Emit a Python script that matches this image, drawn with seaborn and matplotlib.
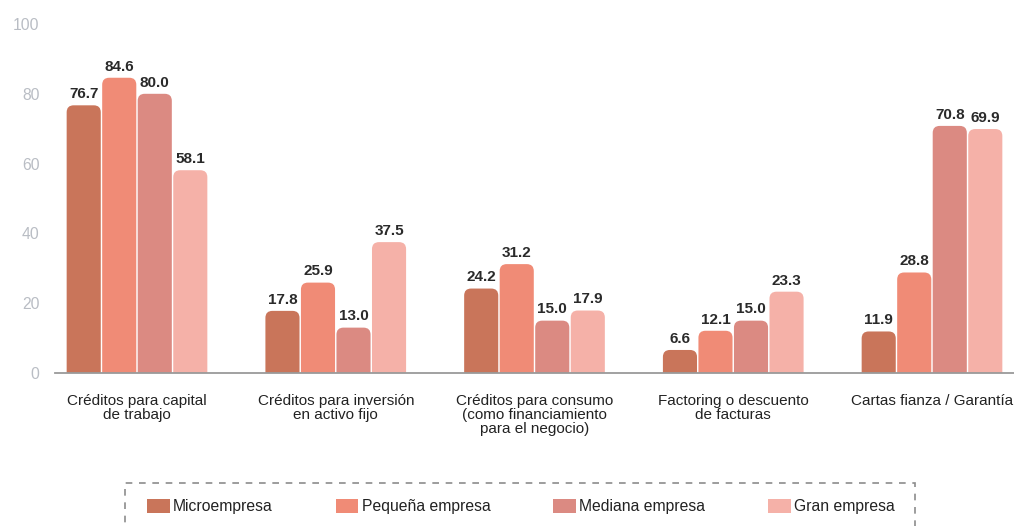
import numpy as np
import pandas as pd
import matplotlib
matplotlib.use("Agg")
import matplotlib.pyplot as plt
from matplotlib.path import Path
from matplotlib.patches import PathPatch, Patch, Rectangle
import seaborn as sns

# ---- data -------------------------------------------------------------
categories = [
    "Créditos para capital\nde trabajo",
    "Créditos para inversión\nen activo fijo",
    "Créditos para consumo\n(como financiamiento\npara el negocio)",
    "Factoring o descuento\nde facturas",
    "Cartas fianza / Garantía",
]
sizes = ["Microempresa", "Pequeña empresa", "Mediana empresa", "Gran empresa"]
micro = [76.7, 17.8, 24.2, 6.6, 11.9]
pequena = [84.6, 25.9, 31.2, 12.1, 28.8]
mediana = [80.0, 13.0, 15.0, 15.0, 70.8]
gran = [58.1, 37.5, 17.9, 23.3, 69.9]
y_ticks = [0, 20, 40, 60, 80, 100]

palette = ["#C9755A", "#F08B76", "#DB8A82", "#F5B1A8"]

series = [micro, pequena, mediana, gran]
df = pd.DataFrame({
    "categoria": np.repeat(categories, len(sizes)),
    "tamano": sizes * len(categories),
    "valor": [series[j][i] for i in range(len(categories)) for j in range(len(sizes))],
})

# ---- figure -----------------------------------------------------------
sns.set_theme(style="white")
plt.rcParams["font.family"] = ["Liberation Sans", "DejaVu Sans"]

TEXT = "#222222"
FS = 11.0

W, H = 1014, 526
fig = plt.figure(figsize=(W / 100, H / 100), dpi=100)
ax = fig.add_axes([55 / W, 1 - 373 / H, (W - 55) / W, (373 - 24) / H])

sns.barplot(data=df, x="categoria", y="valor", hue="tamano", order=categories,
            hue_order=sizes, palette=palette, width=0.715, gap=0.04,
            saturation=1, legend=False, ax=ax)

ax.set_xlim(-0.4126, 4.4126)
ax.set_ylim(0, 100)

# replace the plain rectangles with bars that have rounded top corners
px_x = (W - 55) / (4.4126 + 0.4126)
px_y = (373 - 24) / 100.0
rx, ry = 7 / px_x, 7 / px_y
bars = [p for p in ax.patches if isinstance(p, Rectangle)]
for p in bars:
    x, w, h = p.get_x(), p.get_width(), p.get_height()
    if h <= 0:
        continue
    verts = [(x, 0), (x, h - ry), (x, h), (x + rx, h), (x + w - rx, h),
             (x + w, h), (x + w, h - ry), (x + w, 0), (x, 0)]
    codes = [Path.MOVETO, Path.LINETO, Path.CURVE3, Path.CURVE3, Path.LINETO,
             Path.CURVE3, Path.CURVE3, Path.LINETO, Path.CLOSEPOLY]
    ax.add_patch(PathPatch(Path(verts, codes), facecolor=p.get_facecolor(),
                           edgecolor="none", zorder=2))
    p.set_visible(False)
    ax.annotate(f"{h:.1f}", (x + w / 2, h), xytext=(0, 3),
                textcoords="offset points", ha="center", va="bottom",
                fontsize=11, fontweight="bold", color="#2a2a2a")

# axes styling
for side in ["top", "right", "left"]:
    ax.spines[side].set_visible(False)
ax.spines["bottom"].set_color("#9a9a9a")
ax.spines["bottom"].set_linewidth(1.3)
ax.set_yticks(y_ticks)
ax.set_yticklabels([str(t) for t in y_ticks])
ax.tick_params(axis="y", length=0, pad=11, labelsize=11.3, labelcolor="#b9bdc4")
ax.tick_params(axis="x", length=0, pad=15, labelsize=FS, labelcolor=TEXT)
for lbl in ax.get_xticklabels():
    lbl.set_linespacing(1.02)
ax.set_xlabel("")
ax.set_ylabel("")
ax.grid(False)

# legend with dashed frame
handles = [Patch(facecolor=c, edgecolor="none") for c in palette]
fig.legend(handles, sizes, loc="center left",
           bbox_to_anchor=(147 / W, 1 - 506.5 / H), ncol=4, frameon=False,
           fontsize=11.3, handlelength=1.46, handleheight=1.08,
           handletextpad=0.2, columnspacing=4.0, borderpad=0,
           borderaxespad=0, labelcolor=TEXT)
fig.patches.append(Rectangle((125 / W, -0.05), (915 - 125) / W, 1 - 483 / H + 0.05,
                             transform=fig.transFigure, fill=False,
                             edgecolor="#8c8c8c", linewidth=1.2,
                             linestyle=(0, (4, 4)), figure=fig))

fig.savefig("out.png", dpi=100)
